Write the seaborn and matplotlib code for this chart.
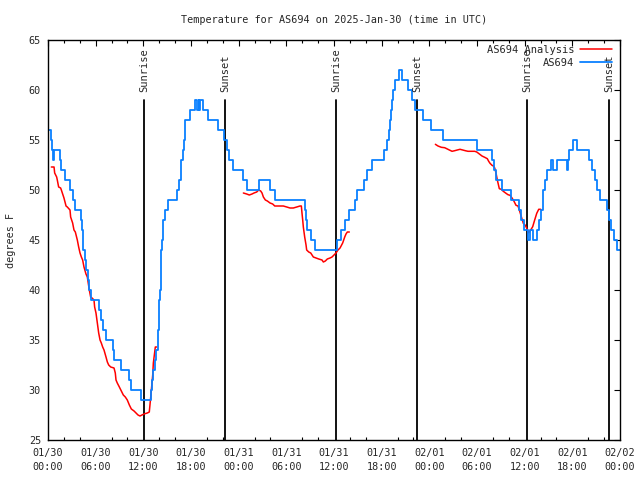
import numpy as np
import pandas as pd
import matplotlib
matplotlib.use("Agg")
import matplotlib.pyplot as plt
import matplotlib.transforms as mtransforms
from matplotlib.lines import Line2D
from matplotlib.ticker import MultipleLocator
import seaborn as sns

# ---------------- data (hours since 2025-01-30 00:00 UTC) ----------------
# AS694 observations: change points of the stepped trace (deg F)
obs_hours = [0.0, 0.34, 0.5, 0.62, 0.7, 1.51, 1.68, 2.1, 2.77, 3.1, 3.44, 4.11, 4.28, 4.36,
             4.45, 4.61, 4.78, 5.04, 5.2, 5.46, 6.38, 6.63, 6.88, 7.3, 8.14, 8.31, 9.15,
             10.24, 10.49, 11.67,
             13.0, 13.09, 13.26, 13.43, 13.55, 13.8, 13.88, 13.93, 14.01, 14.1, 14.18,
             14.26, 14.35, 14.43, 14.52, 14.77, 15.1, 16.2, 16.45, 16.7, 16.78, 17.03,
             17.12, 17.2, 17.28, 17.87, 18.55, 18.8, 18.97, 19.05, 19.13, 19.47, 20.14,
             21.4, 22.16, 22.5, 22.83, 23.3,
             24.59, 25.09, 26.52, 27.95, 28.54, 32.3, 32.45, 32.65, 33.1, 33.6,
             36.34, 36.93, 37.43, 37.86, 38.6, 38.86, 39.78, 40.12, 40.79, 42.3, 42.72,
             42.88, 43.04, 43.22, 43.3, 43.45, 43.72, 44.23, 44.56, 45.32, 45.82, 46.15,
             47.25, 48.25,
             49.76, 53.97, 55.89, 56.14, 56.4, 57.15, 58.25, 59.25, 59.5, 59.92, 60.42,
             60.67, 61.01, 61.52, 61.85, 62.02, 62.27, 62.35, 62.6, 62.78, 63.36, 63.61,
             64.03, 65.29, 65.45, 65.62, 66.13, 66.63, 68.06, 68.48, 68.82, 69.07, 69.49,
             70.41, 70.65, 70.91, 71.29, 71.66, 72.0]
obs_temps = [56, 55, 54, 53, 54, 53, 52, 51, 50, 49, 48, 47, 46, 45,
             44, 43, 42, 41, 40, 39, 38, 37, 36, 35, 34, 33, 32,
             31, 30, 29,
             30, 31, 32, 33, 34, 35, 36, 38, 39, 40, 41,
             44, 45, 46, 47, 48, 49, 50, 51, 52, 53, 54,
             55, 56, 57, 58, 59, 58, 59, 58, 59, 58, 57,
             56, 55, 54, 53, 52,
             51, 50, 51, 50, 49, 48, 47, 46, 45, 44,
             45, 46, 47, 48, 49, 50, 51, 52, 53, 54, 55,
             56, 57, 58, 59, 60, 61, 62, 61, 60, 59, 58,
             57, 56,
             55, 54, 53, 52, 51, 50, 49, 48, 47, 46, 45,
             46, 45, 46, 47, 48, 49, 50, 51, 52, 53, 52,
             53, 52, 53, 54, 55, 54, 53, 52, 51, 50, 49,
             48, 47, 46, 45, 44, 44]

# AS694 analysis: three segments
ana_hours_1 = [0.42, 0.76, 0.84, 1.09, 1.17, 1.34, 1.59, 1.68, 2.01, 2.27, 2.43, 2.77, 2.85,
               3.1, 3.27, 3.44, 3.69, 3.86, 4.03, 4.2, 4.36, 4.53, 4.78, 4.95, 5.2, 5.37,
               5.54, 5.79, 5.87, 6.04, 6.21, 6.38, 6.55, 6.71, 6.88, 7.05, 7.3, 7.47, 7.64,
               7.89, 8.31, 8.47, 8.56, 8.72, 8.98, 9.23, 9.48, 9.73, 9.98, 10.24, 10.49,
               10.83, 11.08, 11.33, 11.58, 11.83, 12.08, 12.5, 12.75, 12.93, 13.18, 13.26,
               13.51, 13.68]
ana_temps_1 = [52.3, 52.3, 51.7, 51.3, 51.0, 50.3, 50.2, 50.0, 49.2, 48.4, 48.3, 48.0, 47.3,
               46.7, 46.0, 45.8, 45.0, 44.3, 43.7, 43.3, 43.0, 42.3, 41.6, 41.3, 40.0, 39.3,
               39.2, 39.0, 38.3, 37.7, 36.7, 35.7, 35.0, 34.7, 34.3, 34.0, 33.3, 32.8, 32.5,
               32.3, 32.2, 31.7, 31.0, 30.7, 30.3, 29.9, 29.5, 29.3, 29.0, 28.5, 28.1,
               27.9, 27.7, 27.5, 27.4, 27.5, 27.6, 27.7, 27.8, 29.3, 31.5, 32.7,
               34.3, 34.3]
ana_hours_2 = [24.59, 25.01, 25.34, 25.68, 25.93, 26.27, 26.52, 26.77, 26.94, 27.11, 27.36,
               27.61, 27.95, 28.28, 28.54, 29.2, 29.62, 30.05, 30.46, 30.88, 31.31, 31.72,
               31.89, 31.97, 32.06, 32.14, 32.31, 32.48, 32.56, 32.82, 33.07, 33.4, 33.74,
               34.08, 34.49, 34.66, 34.91, 35.16, 35.5, 35.75, 36.0, 36.25, 36.5, 36.76,
               37.09, 37.35, 37.51, 37.68, 37.93]
ana_temps_2 = [49.7, 49.6, 49.5, 49.6, 49.7, 49.8, 50.0, 49.9, 49.7, 49.3, 49.0,
               48.9, 48.7, 48.6, 48.4, 48.4, 48.4, 48.3, 48.2, 48.2, 48.3, 48.4,
               48.4, 47.7, 47.0, 46.3, 45.3, 44.5, 44.0, 43.8, 43.7, 43.3, 43.2,
               43.1, 43.0, 42.8, 42.9, 43.1, 43.2, 43.3, 43.5, 43.7, 44.0, 44.2,
               44.7, 45.3, 45.6, 45.8, 45.8]
ana_hours_3 = [48.76, 49.09, 49.51, 49.93, 50.19, 50.52, 50.86, 51.19, 51.52, 51.86, 52.2,
               52.53, 52.87, 53.29, 53.71, 53.97, 54.3, 54.63, 54.97, 55.3, 55.47, 55.64,
               55.89, 56.06, 56.23, 56.4, 56.56, 56.81, 57.06, 57.31, 57.65, 57.9, 58.16,
               58.41, 58.66, 58.91, 59.16, 59.33, 59.58, 59.83, 60.08, 60.33, 60.51, 60.76,
               61.01, 61.26, 61.52, 61.77, 62.02]
ana_temps_3 = [54.57, 54.4, 54.27, 54.23, 54.13, 54.0, 53.87, 53.93, 54.0, 54.07, 54.0,
               53.93, 53.87, 53.87, 53.87, 53.8, 53.6, 53.4, 53.27, 53.13, 52.87, 52.67,
               52.47, 52.4, 52.2, 51.67, 51.0, 50.13, 50.07, 49.87, 49.67, 49.53, 49.47,
               49.2, 48.87, 48.47, 48.4, 48.0, 47.33, 46.67, 46.47, 46.07, 45.73, 46.0,
               46.33, 47.0, 47.67, 48.07, 48.07]

sun_labels = ["Sunrise", "Sunset", "Sunrise", "Sunset", "Sunrise", "Sunset"]
sun_hours = [12.1, 22.32, 36.25, 46.49, 60.33, 70.66]

tick_hours = [0, 6, 12, 18, 24, 30, 36, 42, 48, 54, 60, 66, 72]
tick_labels = ["01/30\n00:00", "01/30\n06:00", "01/30\n12:00", "01/30\n18:00",
               "01/31\n00:00", "01/31\n06:00", "01/31\n12:00", "01/31\n18:00",
               "02/01\n00:00", "02/01\n06:00", "02/01\n12:00", "02/01\n18:00",
               "02/02\n00:00"]
y_ticks = [25, 30, 35, 40, 45, 50, 55, 60, 65]

title = "Temperature for AS694 on 2025-Jan-30 (time in UTC)"
ana_name = "AS694 Analysis"
obs_name = "AS694"

# ---------------- styling ----------------
sns.set_theme(style="white")
plt.rcParams["font.family"] = ["DejaVu Sans Mono", "DejaVu Sans"]
plt.rcParams["font.size"] = 7

RED = "#ff0000"
BLUE = "#0a80ff"
FS = 7

fig = plt.figure(figsize=(6.4, 4.8), dpi=100)
ax = fig.add_axes([48 / 640, 40 / 480, 572 / 640, 400 / 480])

obs_df = pd.DataFrame({"hour": obs_hours, "temp": obs_temps})
ana_df = pd.concat([
    pd.DataFrame({"hour": ana_hours_1, "temp": ana_temps_1, "seg": 1}),
    pd.DataFrame({"hour": ana_hours_2, "temp": ana_temps_2, "seg": 2}),
    pd.DataFrame({"hour": ana_hours_3, "temp": ana_temps_3, "seg": 3}),
], ignore_index=True)

sns.lineplot(data=ana_df, x="hour", y="temp", units="seg", estimator=None,
             color=RED, linewidth=1.1, ax=ax, legend=False)
sns.lineplot(data=obs_df, x="hour", y="temp", estimator=None, color=BLUE,
             linewidth=1.3, drawstyle="steps-post", ax=ax, legend=False)

# sunrise / sunset markers
trans = mtransforms.blended_transform_factory(ax.transData, ax.transAxes)
for lab, h in zip(sun_labels, sun_hours):
    ax.plot([h, h], [0, 0.85], color="black", lw=1.3, transform=trans, zorder=1)
    ax.text(h, 0.871, lab, rotation=90, ha="center", va="bottom", fontsize=FS + 0.5,
            transform=trans)

ax.set_xlim(0, 72)
ax.set_ylim(25, 65)
ax.set_xticks(tick_hours)
ax.set_xticklabels(tick_labels)
ax.xaxis.set_minor_locator(MultipleLocator(2))
ax.set_yticks(y_ticks)
ax.set_yticklabels([str(v) for v in y_ticks])
for lbl in ax.get_xticklabels():
    lbl.set_linespacing(1.5)

ax.tick_params(axis="both", which="major", direction="in", length=4.5, width=0.8,
               top=True, right=True, labelsize=FS + 0.3, color="black")
ax.tick_params(axis="x", which="minor", direction="in", length=2.2, width=0.8,
               top=True, bottom=True, color="black")
ax.tick_params(axis="x", which="major", pad=6)
ax.tick_params(axis="y", which="major", pad=5)

for sp in ax.spines.values():
    sp.set_color("black")
    sp.set_linewidth(1.0)

ax.set_xlabel("")
ax.set_ylabel("degrees F", fontsize=FS + 0.3, labelpad=9)
ax.set_title(title, fontsize=FS + 0.3, pad=12)

handles = [Line2D([], [], color=RED, lw=1.1), Line2D([], [], color=BLUE, lw=1.3)]
ax.legend(handles, [ana_name, obs_name], loc="upper right", frameon=False,
          markerfirst=False, fontsize=FS + 0.5, handlelength=3.0, handletextpad=0.6,
          labelspacing=0.25, borderaxespad=0.2, bbox_to_anchor=(0.9965, 1.003))

fig.savefig("out.png", dpi=100)
